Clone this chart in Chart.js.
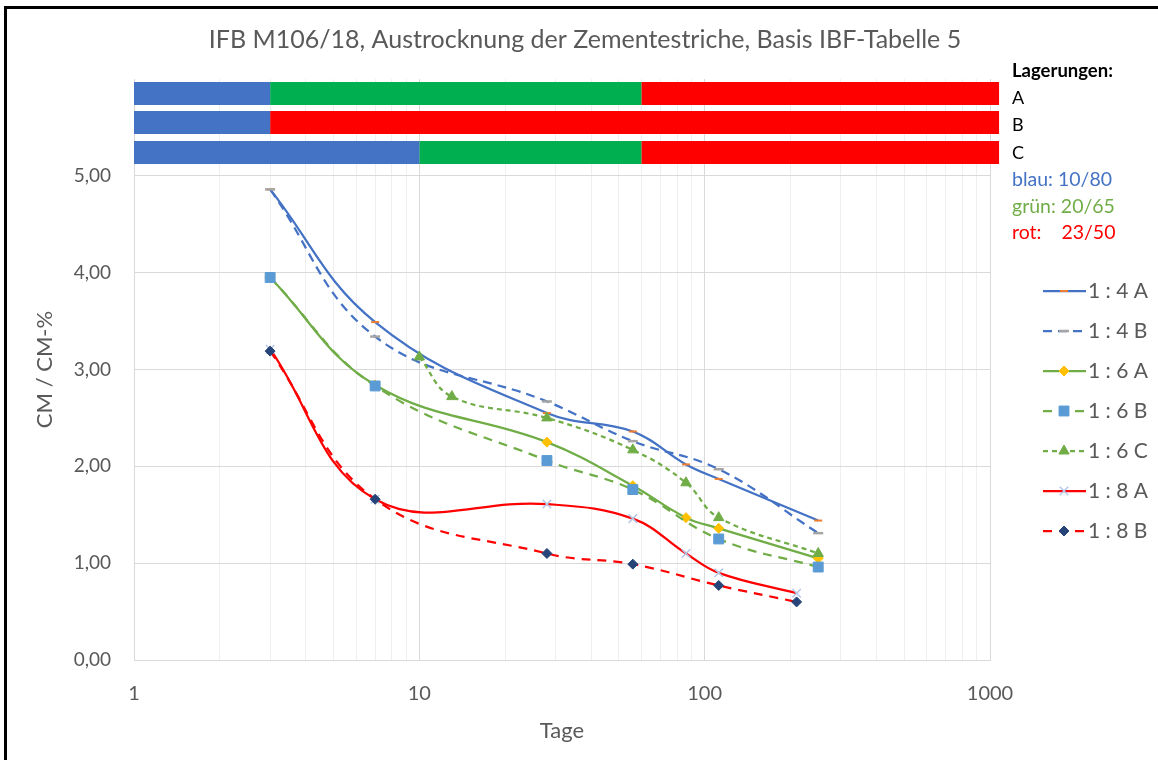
<!DOCTYPE html>
<html>
<head>
<meta charset="utf-8">
<script src="https://cdn.jsdelivr.net/npm/chart.js@4/dist/chart.umd.min.js"></script>
<style>
  body { margin: 0; background: #fff; }
  #wrap { position: relative; width: 1158px; height: 760px; }
  #frame { position: absolute; left: 4px; top: 6px; right: 0; bottom: 0;
           border-top: 3px solid #000; border-left: 3px solid #000; pointer-events: none; }
</style>
</head>
<body>
<div id="wrap">
  <canvas id="cmchart" width="1158" height="760"></canvas>
  <div id="frame"></div>
</div>
<script>
// Messwerte (Tage / CM-%)
var days4A = [3, 7, 28, 56, 86, 112, 250];
var cm4A = [4.86, 3.49, 2.55, 2.36, 2.02, 1.87, 1.44];
var days4B = [3, 7, 28, 56, 112, 250];
var cm4B = [4.86, 3.34, 2.67, 2.26, 1.97, 1.31];
var days6A = [3, 7, 28, 56, 86, 112, 250];
var cm6A = [3.95, 2.84, 2.25, 1.80, 1.47, 1.36, 1.05];
var days6B = [3, 7, 28, 56, 112, 250];
var cm6B = [3.95, 2.83, 2.06, 1.76, 1.25, 0.96];
var days6C = [10, 13, 28, 56, 86, 112, 250];
var cm6C = [3.13, 2.72, 2.50, 2.17, 1.83, 1.47, 1.10];
var days8A = [3, 7, 28, 56, 86, 112, 210];
var cm8A = [3.21, 1.66, 1.61, 1.46, 1.10, 0.90, 0.69];
var days8B = [3, 7, 28, 56, 112, 210];
var cm8B = [3.19, 1.66, 1.10, 0.99, 0.77, 0.60];

// Lagerungen: Grenzen in Tagen und Farbe je Abschnitt
var lagerA = [1, 3, 60, 1076];
var farbenA = ["blau", "gruen", "rot"];
var lagerB = [1, 3, 1076];
var farbenB = ["blau", "rot"];
var lagerC = [1, 10, 60, 1076];
var farbenC = ["blau", "gruen", "rot"];
var lagerY = [5.85, 5.55, 5.24];

var xTicks = [1, 10, 100, 1000];

var BLUE = "#4472C4", GREEN = "#70AD47", RED = "#FF0000";
var balkenFarbe = { blau: "#4472C4", gruen: "#00B050", rot: "#FF0000" };

function pts(xs, ys) {
    return xs.map(function (x, i) { return { x: x, y: ys[i] }; });
}

var series = [
    { label: "1 : 4 A", data: pts(days4A, cm4A), borderColor: BLUE, borderDash: [],
      pointStyle: "line", pointRadius: 4, pointBorderColor: "#ED7D31", pointBackgroundColor: "#ED7D31", pointBorderWidth: 2 },
    { label: "1 : 4 B", data: pts(days4B, cm4B), borderColor: BLUE, borderDash: [9, 6],
      pointStyle: "line", pointRadius: 5, pointBorderColor: "#A5A5A5", pointBackgroundColor: "#A5A5A5", pointBorderWidth: 2.5 },
    { label: "1 : 6 A", data: pts(days6A, cm6A), borderColor: GREEN, borderDash: [],
      pointStyle: "rectRot", pointRadius: 5, pointBorderColor: "#FFC000", pointBackgroundColor: "#FFC000", pointBorderWidth: 1 },
    { label: "1 : 6 B", data: pts(days6B, cm6B), borderColor: GREEN, borderDash: [9, 7],
      pointStyle: "rect", pointRadius: 7, pointBorderColor: "#5B9BD5", pointBackgroundColor: "#5B9BD5", pointBorderWidth: 1 },
    { label: "1 : 6 C", data: pts(days6C, cm6C), borderColor: GREEN, borderDash: [5, 4],
      pointStyle: "triangle", pointRadius: 6, pointBorderColor: GREEN, pointBackgroundColor: GREEN, pointBorderWidth: 1 },
    { label: "1 : 8 A", data: pts(days8A, cm8A), borderColor: RED, borderDash: [],
      pointStyle: "crossRot", pointRadius: 6, pointBorderColor: "#B4C7E7", pointBackgroundColor: "#B4C7E7", pointBorderWidth: 1.5 },
    { label: "1 : 8 B", data: pts(days8B, cm8B), borderColor: RED, borderDash: [9, 7],
      pointStyle: "rectRot", pointRadius: 5, pointBorderColor: "#264478", pointBackgroundColor: "#264478", pointBorderWidth: 1 }
];

var datasets = series.map(function (s, i) {
    s.borderWidth = 2.25;
    s.tension = 0.4;
    s.fill = false;
    s.order = 10 - i;
    s.pointHoverRadius = s.pointRadius;
    return s;
});

function addBalken(grenzen, farben, yv) {
    for (var i = 0; i < farben.length; i++) {
        datasets.push({
            label: "",
            data: [{ x: grenzen[i], y: yv }, { x: grenzen[i + 1], y: yv }],
            borderColor: balkenFarbe[farben[i]],
            borderWidth: 23,
            borderCapStyle: "butt",
            pointRadius: 0,
            tension: 0,
            clip: false,
            order: 20
        });
    }
}
addBalken(lagerA, farbenA, lagerY[0]);
addBalken(lagerB, farbenB, lagerY[1]);
addBalken(lagerC, farbenC, lagerY[2]);

var textPlugin = {
    id: "texte",
    afterDraw: function (chart) {
        var ctx = chart.ctx;
        ctx.save();
        ctx.textBaseline = "middle";
        // Titel
        ctx.fillStyle = "#595959";
        ctx.textAlign = "center";
        ctx.font = "25px Lato";
        ctx.fillText("IFB M106/18, Austrocknung der Zementestriche, Basis IBF-Tabelle 5", 585, 40);
        // Lagerungen
        ctx.textAlign = "left";
        ctx.fillStyle = "#000";
        ctx.font = "bold 18.5px Lato";
        ctx.fillText("Lagerungen:", 1012, 71);
        ctx.font = "18px Lato";
        ctx.fillText("A", 1012, 98);
        ctx.fillText("B", 1012, 125);
        ctx.fillText("C", 1012, 153);
        ctx.font = "19.5px Lato";
        ctx.fillStyle = "#4472C4";
        ctx.fillText("blau: 10/80", 1012, 180);
        ctx.fillStyle = "#70AD47";
        ctx.fillText("gr\u00fcn: 20/65", 1012, 207);
        ctx.fillStyle = "#FF0000";
        ctx.fillText("rot:    23/50", 1012, 233);

        // Legende
        series.forEach(function (s, i) {
            var y = 291 + i * 40;
            ctx.strokeStyle = s.borderColor;
            ctx.lineWidth = 2.25;
            ctx.setLineDash(s.borderDash);
            ctx.beginPath();
            ctx.moveTo(1043, y);
            ctx.lineTo(1086, y);
            ctx.stroke();
            ctx.setLineDash([]);
            ctx.strokeStyle = s.pointBorderColor;
            ctx.fillStyle = s.pointBackgroundColor;
            ctx.lineWidth = s.pointBorderWidth;
            Chart.helpers.drawPoint(ctx, {
                pointStyle: s.pointStyle, radius: s.pointRadius, rotation: 0, borderWidth: s.pointBorderWidth
            }, 1064, y);
            ctx.fillStyle = "#595959";
            ctx.font = "21px Lato";
            ctx.fillText(s.label, 1088, y);
        });
        ctx.restore();
    }
};

new Chart(document.getElementById("cmchart"), {
    type: "line",
    data: { datasets: datasets },
    options: {
        responsive: false,
        animation: false,
        events: [],
        layout: { padding: { top: 79, right: 168, left: 0, bottom: 0 } },
        plugins: {
            legend: { display: false },
            tooltip: { enabled: false }
        },
        scales: {
            x: {
                type: "logarithmic",
                min: 1,
                max: 1000,
                afterFit: function (s) { s.height = 100; },
                afterBuildTicks: function (s) {
                    var t = [];
                    for (var d = 1; d < 1000; d *= 10) {
                        for (var k = 1; k < 10; k++) t.push({ value: d * k });
                    }
                    t.push({ value: 1000 });
                    s.ticks = t;
                },
                grid: {
                    drawTicks: false,
                    color: function (c) {
                        var v = c.tick ? c.tick.value : 0;
                        return xTicks.indexOf(v) >= 0 ? "#d9d9d9" : "#efefef";
                    }
                },
                border: { color: "#d9d9d9" },
                ticks: {
                    padding: 22,
                    autoSkip: false,
                    maxRotation: 0,
                    color: "#595959",
                    font: { family: "Lato", size: 20 },
                    callback: function (v) { return xTicks.indexOf(v) >= 0 ? String(v) : ""; }
                },
                title: {
                    display: true,
                    text: "Tage",
                    color: "#595959",
                    font: { family: "Lato", size: 22 },
                    padding: { top: 0, bottom: 16 }
                }
            },
            y: {
                min: 0,
                max: 6,
                afterFit: function (s) { s.width = 134; },
                grid: {
                    drawTicks: false,
                    color: function (c) { return c.tick && c.tick.value >= 6 ? "rgba(0,0,0,0)" : "#d9d9d9"; }
                },
                border: { display: false },
                ticks: {
                    stepSize: 1,
                    padding: 23,
                    color: "#595959",
                    font: { family: "Lato", size: 19 },
                    callback: function (v) { return v >= 6 ? "" : v.toFixed(2).replace(".", ","); }
                },
                title: {
                    display: true,
                    text: "CM / CM-%",
                    color: "#595959",
                    font: { family: "Lato", size: 22 },
                    padding: { top: 32, bottom: 0 }
                }
            }
        }
    },
    plugins: [textPlugin]
});
</script>
</body>
</html>
